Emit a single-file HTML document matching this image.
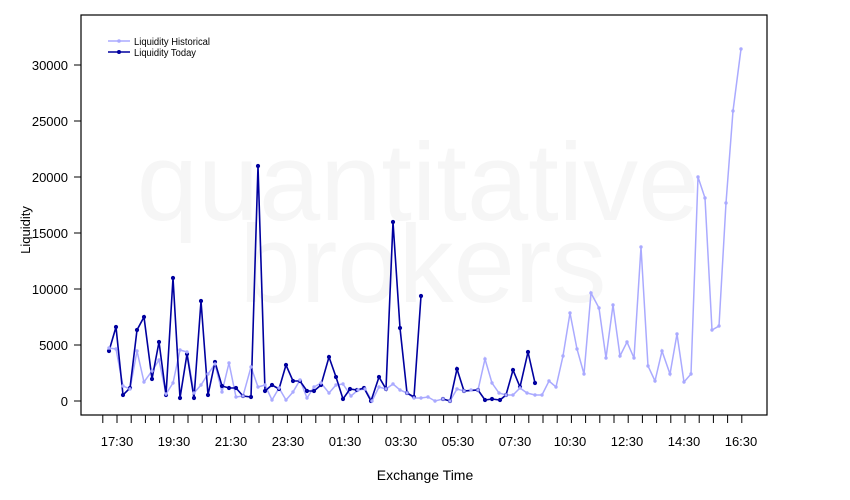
<!DOCTYPE html>
<html><head><meta charset="utf-8"><style>body{margin:0;background:#fff}svg{display:block}</style></head><body>
<svg width="850" height="500" xmlns="http://www.w3.org/2000/svg" font-family="Liberation Sans, sans-serif">
<text x="418" y="220" font-size="110" fill="#f6f6f6" text-anchor="middle">quantitative</text>
<text x="423" y="302" font-size="110" fill="#f6f6f6" text-anchor="middle">brokers</text>
<rect x="81" y="15" width="686" height="400" fill="none" stroke="#000" stroke-width="1.2"/>
<g id="yt" stroke="#000">
<line x1="74" y1="401" x2="81" y2="401"/><line x1="74" y1="345" x2="81" y2="345"/><line x1="74" y1="289" x2="81" y2="289"/><line x1="74" y1="233" x2="81" y2="233"/><line x1="74" y1="177" x2="81" y2="177"/><line x1="74" y1="121" x2="81" y2="121"/><line x1="74" y1="65" x2="81" y2="65"/>
</g>
<g font-size="13" text-anchor="end">
<text x="68" y="406">0</text><text x="68" y="350">5000</text><text x="68" y="294">10000</text><text x="68" y="238">15000</text><text x="68" y="182">20000</text><text x="68" y="126">25000</text><text x="68" y="70">30000</text>
</g>
<text transform="translate(30,230) rotate(-90)" font-size="13" text-anchor="middle">Liquidity</text>
<text x="425" y="480" font-size="14" text-anchor="middle">Exchange Time</text>
<g id="xt" stroke="#000"></g>
<g font-size="13" text-anchor="middle">
<text x="117" y="446">17:30</text><text x="174" y="446">19:30</text><text x="231" y="446">21:30</text><text x="288" y="446">23:30</text><text x="345" y="446">01:30</text><text x="401" y="446">03:30</text><text x="458" y="446">05:30</text><text x="515" y="446">07:30</text><text x="570" y="446">10:30</text><text x="627" y="446">12:30</text><text x="684" y="446">14:30</text><text x="741" y="446">16:30</text>
</g>
<polyline id="hist" fill="none" stroke="#aaaaff" stroke-width="1.5" points="109,348 116,349 123,386 130,389 137,351 144,382 152,371 159,360 166,394 173,383 180,350 187,352 194,393 201,385 208,374 215,364 222,392 229,363 236,397 243,396 251,367 258,387 265,385 272,400 279,388 286,400 293,392 300,380 307,398 314,387 321,383 329,393 336,385 343,384 351,396 358,390 365,389 372,401 379,387 386,389 393,384 400,390 407,393 414,398 421,398 428,397 435,401 443,399 450,401 457,389 464,391 471,390 478,390 485,359 492,383 499,393 506,395 513,395 520,388 527,393 535,395 542,395 549,381 556,387 563,356 570,313 577,349 584,374 591,293 599,308 606,358 613,305 620,356 627,342 634,358 641,247 648,366 655,381 662,351 670,374 677,334 684,382 691,374 698,177 705,198 712,330 719,326 726,203 733,111 741,49"/>
<g id="today">
<polyline fill="none" stroke="#00009f" stroke-width="1.6" points="109,351 116,327 123,395 130,388 137,330 144,317 152,379 159,342 166,395 173,278 180,398 187,354 194,398 201,301 208,395 215,362 222,386 229,388 236,388 243,396 251,397 258,166 265,391 272,385 279,389 286,365 293,381 300,381 307,391 314,391 321,385 329,357 336,377 343,399 350,389 357,390 364,388 371,401 379,377 386,389 393,222 400,328 407,393 414,397 421,296"/>
<polyline fill="none" stroke="#00009f" stroke-width="1.6" points="443,399 450,401 457,369 464,391 478,390 485,400 492,399 500,400 506,395 513,370 520,387 528,352 535,383"/>
</g>
<line x1="108" y1="41" x2="130" y2="41" stroke="#aaaaff" stroke-width="1.5"/><circle cx="119" cy="41" r="1.8" fill="#aaaaff"/>
<line x1="108" y1="52" x2="130" y2="52" stroke="#00009f" stroke-width="1.5"/><circle cx="119" cy="52" r="2" fill="#00009f"/>
<text x="134" y="45" font-size="10" textLength="76" lengthAdjust="spacingAndGlyphs">Liquidity Historical</text>
<text x="134" y="56" font-size="10" textLength="62" lengthAdjust="spacingAndGlyphs">Liquidity Today</text>
<script>
var ns="http://www.w3.org/2000/svg",g=document.getElementById("xt");
for(var i=0;i<46;i++){var x=102.8+i*14.2;var l=document.createElementNS(ns,"line");l.setAttribute("x1",x);l.setAttribute("x2",x);l.setAttribute("y1",415);l.setAttribute("y2",423);g.appendChild(l);}
function dots(sel,r,c){document.querySelectorAll(sel).forEach(function(p){p.getAttribute("points").trim().split(/\s+/).forEach(function(s){var a=s.split(",");var ci=document.createElementNS(ns,"circle");ci.setAttribute("cx",a[0]);ci.setAttribute("cy",a[1]);ci.setAttribute("r",r);ci.setAttribute("fill",c);p.parentNode.appendChild(ci);});});}
dots("#hist",1.7,"#aaaaff");dots("#today polyline",2.1,"#00009f");
</script>
</svg>
</body></html>
